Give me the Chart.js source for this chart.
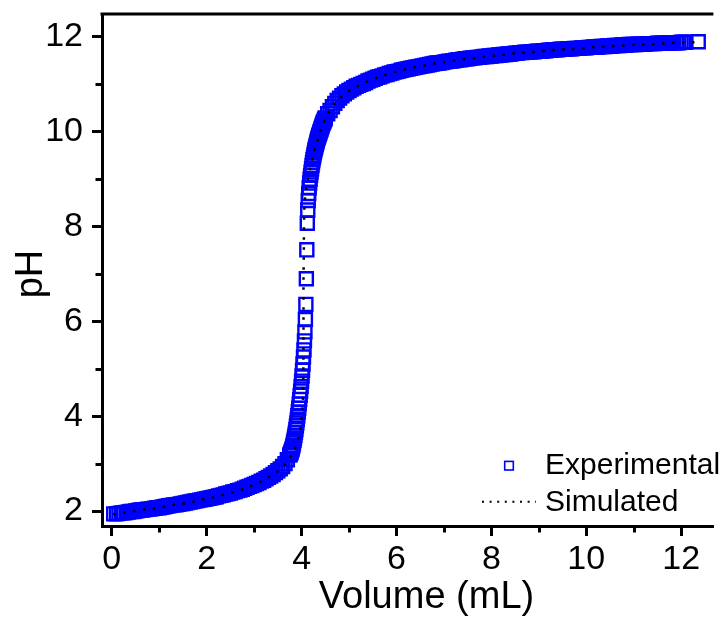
<!DOCTYPE html>
<html>
<head>
<meta charset="utf-8">
<title>Titration curve</title>
<script src="https://cdn.jsdelivr.net/npm/chart.js@4.4.1/dist/chart.umd.min.js"></script>
<style>
  html, body { margin: 0; padding: 0; background: #ffffff; }
  #wrap { width: 725px; height: 618px; position: relative; }
  canvas { display: block; }
</style>
</head>
<body>
<div id="wrap"><canvas id="chart" width="725" height="618"></canvas></div>
<script>
// ---- data -------------------------------------------------------------
const seriesNames = ['Experimental', 'Simulated'];
const xTitle = 'Volume (mL)';
const yTitle = 'pH';

const xMajorTicks = [0, 2, 4, 6, 8, 10, 12];
const xMinorTicks = [1, 3, 5, 7, 9, 11];
const yMajorTicks = [2, 4, 6, 8, 10, 12];
const yMinorTicks = [3, 5, 7, 9, 11];

// measured titration points: added volume (mL)
const expVolume = [
  0.04, 0.10, 0.15, 0.20, 0.25, 0.30, 0.35, 0.40, 0.45, 0.50,
  0.55, 0.60, 0.65, 0.70, 0.75, 0.80, 0.85, 0.90, 0.95, 1.00,
  1.05, 1.10, 1.15, 1.20, 1.25, 1.30, 1.35, 1.40, 1.45, 1.50,
  1.55, 1.60, 1.65, 1.70, 1.75, 1.80, 1.85, 1.90, 1.95, 2.00,
  2.05, 2.10, 2.15, 2.20, 2.25, 2.30, 2.35, 2.40, 2.45, 2.50,
  2.55, 2.60, 2.65, 2.70, 2.75, 2.80, 2.85, 2.90, 2.95, 3.00,
  3.05, 3.10, 3.15, 3.20, 3.25, 3.30, 3.35, 3.40, 3.45, 3.50,
  3.55, 3.60, 3.65, 3.70, 3.75,
  3.76, 3.77, 3.78, 3.79, 3.80, 3.81, 3.82, 3.83, 3.84, 3.85,
  3.86, 3.87, 3.88, 3.89, 3.90, 3.91, 3.92, 3.93, 3.94, 3.95,
  3.96, 3.97, 3.98, 3.99, 4.00, 4.01, 4.02, 4.03, 4.04, 4.05,
  4.06, 4.07, 4.08, 4.09, 4.10, 4.11, 4.12, 4.13, 4.14, 4.15,
  4.16, 4.17, 4.18, 4.19, 4.20, 4.21, 4.22, 4.23, 4.24, 4.25,
  4.26, 4.27, 4.28, 4.29, 4.30, 4.31, 4.32, 4.33, 4.34, 4.35,
  4.36, 4.37, 4.38, 4.39, 4.40, 4.41, 4.42, 4.43, 4.44, 4.45,
  4.46, 4.47, 4.48, 4.49, 4.50,
  4.55, 4.60, 4.65, 4.70, 4.75, 4.80, 4.85, 4.90, 4.95, 5.00,
  5.05, 5.10, 5.15, 5.20, 5.25, 5.30, 5.35, 5.40, 5.45, 5.50,
  5.55, 5.60, 5.65, 5.70, 5.75, 5.80, 5.85, 5.90, 5.95, 6.00,
  6.05, 6.10, 6.15, 6.20, 6.25, 6.30, 6.35, 6.40, 6.45, 6.50,
  6.55, 6.60, 6.65, 6.70, 6.75, 6.80, 6.85, 6.90, 6.95, 7.00,
  7.05, 7.10, 7.15, 7.20, 7.25, 7.30, 7.35, 7.40, 7.45, 7.50,
  7.55, 7.60, 7.65, 7.70, 7.75, 7.80, 7.85, 7.90, 7.95, 8.00,
  8.05, 8.10, 8.15, 8.20, 8.25, 8.30, 8.35, 8.40, 8.45, 8.50,
  8.55, 8.60, 8.65, 8.70, 8.75, 8.80, 8.85, 8.90, 8.95, 9.00,
  9.05, 9.10, 9.15, 9.20, 9.25, 9.30, 9.35, 9.40, 9.45, 9.50,
  9.55, 9.60, 9.65, 9.70, 9.75, 9.80, 9.85, 9.90, 9.95, 10.00,
  10.05, 10.10, 10.15, 10.20, 10.25, 10.30, 10.35, 10.40, 10.45, 10.50,
  10.55, 10.60, 10.65, 10.70, 10.75, 10.80, 10.85, 10.90, 10.95, 11.00,
  11.05, 11.10, 11.15, 11.20, 11.25, 11.30, 11.35, 11.40, 11.45, 11.50,
  11.55, 11.60, 11.65, 11.70, 11.75, 11.80, 11.85, 11.90, 11.95, 12.00,
  12.05, 12.10, 12.36
];

// measured pH at each volume above
const expPH = [
  1.94, 1.94, 1.95, 1.96, 1.96, 1.97, 1.98, 1.99, 1.99, 2.00,
  2.01, 2.02, 2.02, 2.03, 2.04, 2.04, 2.05, 2.06, 2.07, 2.07,
  2.08, 2.09, 2.10, 2.11, 2.12, 2.13, 2.13, 2.14, 2.15, 2.16,
  2.17, 2.18, 2.19, 2.20, 2.21, 2.22, 2.23, 2.24, 2.25, 2.26,
  2.27, 2.28, 2.29, 2.30, 2.32, 2.33, 2.34, 2.36, 2.37, 2.38,
  2.40, 2.41, 2.43, 2.44, 2.46, 2.48, 2.50, 2.52, 2.54, 2.56,
  2.58, 2.60, 2.63, 2.65, 2.68, 2.71, 2.74, 2.77, 2.81, 2.85,
  2.89, 2.94, 3.00, 3.08, 3.18,
  3.20, 3.22, 3.25, 3.28, 3.31, 3.35, 3.39, 3.44, 3.49, 3.54,
  3.60, 3.66, 3.72, 3.79, 3.86, 3.93, 4.01, 4.09, 4.17, 4.26,
  4.35, 4.44, 4.53, 4.63, 4.74, 4.85, 4.97, 5.10, 5.25, 5.40,
  5.59, 5.78, 6.04, 6.36, 6.90, 7.51, 8.07, 8.35, 8.55, 8.70,
  8.82, 8.92, 9.00, 9.08, 9.15, 9.22, 9.29, 9.35, 9.41, 9.46,
  9.51, 9.56, 9.61, 9.65, 9.69, 9.73, 9.77, 9.81, 9.85, 9.88,
  9.91, 9.94, 9.97, 10.00, 10.03, 10.06, 10.09, 10.12, 10.15, 10.18,
  10.20, 10.22, 10.25, 10.27, 10.29,
  10.38, 10.45, 10.53, 10.60, 10.66, 10.71, 10.76, 10.80, 10.84, 10.87,
  10.90, 10.93, 10.96, 10.98, 11.00, 11.02, 11.04, 11.07, 11.09, 11.11,
  11.13, 11.15, 11.16, 11.18, 11.20, 11.21, 11.23, 11.24, 11.26, 11.27,
  11.28, 11.30, 11.31, 11.32, 11.33, 11.34, 11.35, 11.36, 11.37, 11.38,
  11.39, 11.40, 11.41, 11.42, 11.43, 11.44, 11.45, 11.45, 11.46, 11.47,
  11.48, 11.49, 11.49, 11.50, 11.51, 11.52, 11.52, 11.53, 11.54, 11.54,
  11.55, 11.56, 11.56, 11.57, 11.57, 11.58, 11.59, 11.59, 11.60, 11.60,
  11.61, 11.61, 11.62, 11.62, 11.63, 11.63, 11.64, 11.64, 11.65, 11.66,
  11.66, 11.67, 11.67, 11.68, 11.68, 11.68, 11.69, 11.69, 11.70, 11.70,
  11.70, 11.71, 11.71, 11.72, 11.72, 11.73, 11.73, 11.73, 11.74, 11.74,
  11.74, 11.75, 11.75, 11.75, 11.76, 11.76, 11.76, 11.77, 11.77, 11.77,
  11.78, 11.78, 11.79, 11.79, 11.79, 11.80, 11.80, 11.80, 11.81, 11.81,
  11.81, 11.82, 11.82, 11.82, 11.83, 11.83, 11.83, 11.84, 11.84, 11.84,
  11.84, 11.85, 11.85, 11.85, 11.85, 11.86, 11.86, 11.86, 11.86, 11.87,
  11.87, 11.87, 11.87, 11.87, 11.88, 11.88, 11.88, 11.88, 11.88, 11.89,
  11.89, 11.89, 11.90
];

// model curve
const simVolume = [
  0.03, 0.28, 0.48, 0.69, 0.90, 1.10, 1.31, 1.52, 1.72, 1.93,
  2.15, 2.35, 2.57, 2.77, 2.98, 3.19, 3.40, 3.50, 3.60, 3.69,
  3.77, 3.83, 3.88, 3.91, 3.94, 3.96, 3.98, 4.00, 4.02, 4.03,
  4.035, 4.04, 4.04, 4.045, 4.05, 4.06, 4.08, 4.11, 4.15, 4.20,
  4.24, 4.31, 4.38, 4.45, 4.55, 4.69, 4.88, 5.08, 5.29, 5.49,
  5.70, 5.91, 6.11, 6.32, 6.54, 6.74, 6.95, 7.26, 7.67, 8.10,
  8.52, 8.93, 9.35, 9.77, 10.18, 10.59, 11.01, 11.43, 11.84, 12.26,
  12.30
];
const simPH = [
  1.93, 1.97, 2.00, 2.03, 2.06, 2.09, 2.13, 2.16, 2.20, 2.25,
  2.29, 2.34, 2.40, 2.46, 2.55, 2.64, 2.77, 2.84, 2.93, 3.03,
  3.15, 3.25, 3.36, 3.46, 3.57, 3.67, 3.78, 3.99, 4.22, 4.43,
  4.64, 5.50, 7.00, 7.20, 8.04, 8.46, 8.67, 8.88, 9.11, 9.32,
  9.53, 9.74, 9.95, 10.17, 10.38, 10.59, 10.78, 10.92, 11.02, 11.11,
  11.18, 11.25, 11.30, 11.35, 11.39, 11.43, 11.46, 11.51, 11.56, 11.61,
  11.66, 11.69, 11.73, 11.75, 11.79, 11.81, 11.84, 11.85, 11.88, 11.89,
  11.90
];

// ---- styling ----------------------------------------------------------
const FONT = '"Liberation Sans", Arial, Helvetica, sans-serif';
const INK = '#000000';
const BLUE = '#0000ff';

const toPoints = (xs, ys) => xs.map((x, i) => ({ x: x, y: ys[i] }));

// frame top edge, minor ticks, axis titles and legend
const decorations = {
  id: 'decorations',
  afterDraw(chart) {
    const { ctx, chartArea: a, scales } = chart;
    const xs = scales.x, ys = scales.y;
    ctx.save();
    ctx.strokeStyle = INK;
    ctx.lineWidth = 3;
    ctx.lineCap = 'butt';

    ctx.beginPath();
    ctx.moveTo(a.left - 1.5, a.top);
    ctx.lineTo(a.right, a.top);
    ctx.stroke();

    yMinorTicks.forEach(v => {
      const py = Math.round(ys.getPixelForValue(v)) + 0.5;
      ctx.beginPath();
      ctx.moveTo(a.left, py);
      ctx.lineTo(a.left - 6.5, py);
      ctx.stroke();
    });
    xMinorTicks.forEach(v => {
      const px = Math.round(xs.getPixelForValue(v)) + 0.5;
      ctx.beginPath();
      ctx.moveTo(px, a.bottom);
      ctx.lineTo(px, a.bottom + 6.5);
      ctx.stroke();
    });

    // axis titles
    ctx.fillStyle = INK;
    ctx.font = '38px ' + FONT;
    ctx.textAlign = 'center';
    ctx.textBaseline = 'middle';
    ctx.fillText(xTitle, 426.5, 598);
    ctx.save();
    ctx.translate(41.7, 274);
    ctx.rotate(-Math.PI / 2);
    ctx.textBaseline = 'alphabetic';
    ctx.fillText(yTitle, 0, 0);
    ctx.restore();

    // legend
    const exp = chart.data.datasets[1];
    const sim = chart.data.datasets[0];
    ctx.font = '30px ' + FONT;
    ctx.textAlign = 'left';
    ctx.textBaseline = 'alphabetic';

    ctx.strokeStyle = exp.borderColor;
    ctx.lineWidth = 1.6;
    ctx.strokeRect(509 - 4.3, 465.7 - 4.3, 8.6, 8.6);
    ctx.fillText(exp.label, 545, 474);

    ctx.strokeStyle = sim.borderColor;
    ctx.lineWidth = 2;
    ctx.setLineDash([2, 5.6]);
    ctx.beginPath();
    ctx.moveTo(482, 501.7);
    ctx.lineTo(536, 501.7);
    ctx.stroke();
    ctx.setLineDash([]);
    ctx.fillText(sim.label, 545, 510.5);

    ctx.restore();
  }
};

const axisCommon = {
  type: 'linear',
  grid: {
    display: true,
    drawOnChartArea: false,
    drawTicks: true,
    tickLength: 10,
    tickWidth: 3,
    tickColor: INK,
    color: INK
  },
  border: { display: true, width: 3, color: INK },
  title: { display: false }
};

new Chart(document.getElementById('chart'), {
  type: 'scatter',
  data: {
    datasets: [
      {
        label: seriesNames[1],
        type: 'line',
        data: toPoints(simVolume, simPH),
        borderColor: INK,
        borderWidth: 2.5,
        borderDash: [2.5, 7.5],
        borderCapStyle: 'butt',
        pointRadius: 0,
        pointHoverRadius: 0,
        fill: false,
        tension: 0,
        order: 0
      },
      {
        label: seriesNames[0],
        data: toPoints(expVolume, expPH),
        showLine: false,
        pointStyle: 'rect',
        pointRadius: 9.2,
        pointHoverRadius: 9.2,
        pointBorderWidth: 2.4,
        borderColor: BLUE,
        backgroundColor: 'rgba(0,0,0,0)',
        order: 1
      }
    ]
  },
  options: {
    responsive: false,
    devicePixelRatio: 1,
    animation: false,
    events: [],
    layout: { padding: { top: 14, right: 0, bottom: 0, left: 0 } },
    plugins: {
      legend: { display: false },
      tooltip: { enabled: false },
      title: { display: false }
    },
    scales: {
      x: Object.assign({}, axisCommon, {
        position: 'bottom',
        min: -0.207,
        max: 12.68,
        afterBuildTicks: s => { s.ticks = xMajorTicks.map(v => ({ value: v })); },
        afterFit: s => { s.height = 92; s.paddingLeft = 0; s.paddingRight = 0; },
        ticks: {
          color: INK,
          padding: 3,
          maxRotation: 0,
          autoSkip: false,
          font: { family: FONT, size: 34, lineHeight: 1.2 },
          callback: v => String(v)
        }
      }),
      y: Object.assign({}, axisCommon, {
        position: 'left',
        min: 1.684,
        max: 12.485,
        afterBuildTicks: s => { s.ticks = yMajorTicks.map(v => ({ value: v })); },
        afterFit: s => { s.width = 102; s.paddingTop = 0; s.paddingBottom = 0; },
        ticks: {
          color: INK,
          padding: 9,
          autoSkip: false,
          font: { family: FONT, size: 34, lineHeight: 1.2 },
          callback: v => String(v)
        }
      })
    }
  },
  plugins: [decorations]
});
</script>
</body>
</html>
